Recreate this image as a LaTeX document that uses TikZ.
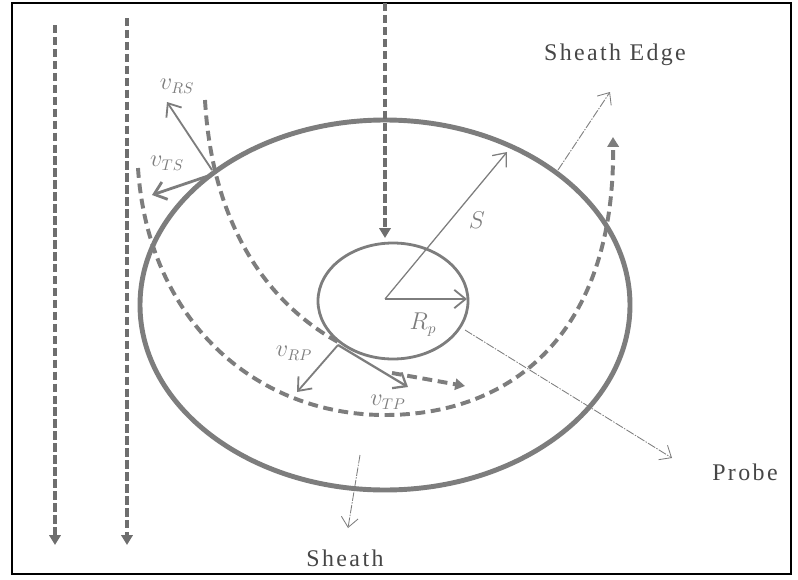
\documentclass[tikz,border=0pt]{standalone}
\usepackage{fontspec}
\newfontfamily\lblfont[LetterSpace=10]{Liberation Serif}
\usetikzlibrary{arrows.meta, positioning}
\definecolor{linegray}{RGB}{125,125,125}
\definecolor{streamgray}{RGB}{110,110,110}
\definecolor{textgray}{RGB}{70,70,70}
\tikzset{
  frame/.style={draw=black, line width=2pt}, % outer box
  sheathedge/.style={draw=linegray, line width=3.5pt},
  probeedge/.style={draw=linegray, line width=2pt},
  stream/.style={draw=streamgray, line width=2.6pt, dash pattern=on 6pt off 2.5pt,
    -{Triangle[length=7pt, width=8pt]}},
  orbit/.style={draw=linegray, line width=2.8pt, dash pattern=on 7pt off 4pt},
  vec/.style={draw=linegray, line width=1.3pt, -{Straight Barb[length=8pt, width=13pt]}},
  pointer/.style={draw=linegray, line width=0.6pt,
    dash pattern=on 6pt off 1pt on 1pt off 1pt,
    -{Straight Barb[length=7pt, width=12pt]}},
  word/.style={text=textgray, font=\fontsize{17}{20}\selectfont\lblfont},
  sym/.style={text=linegray, font=\fontsize{16}{19}\selectfont},
}

\begin{document}
\begin{tikzpicture}[x=0.025cm, y=-0.025cm]
  \useasboundingbox (0,0) rectangle (798,580);
  \draw[frame] (12,3) rectangle (791,574);

  % sheath and probe
  \coordinate (sc) at (385,305);
  \coordinate (pc) at (393,301);
  \coordinate (o) at (385,299);
  \draw[sheathedge] (sc) ellipse [x radius=245, y radius=185];
  \draw[probeedge] (pc) ellipse [x radius=75, y radius=58];

  % radii
  \coordinate (rp) at (467,299);
  \coordinate (rs) at (507,152);
  \draw[vec] (o) -- (rp);
  \draw[vec, line width=0.9pt] (o) -- (rs);
  \node[sym] (slbl) at (477,220) {$S$};
  \node[sym] (rplbl) at (423,325) {$R_p$};

  % incoming ions
  \coordinate (s1a) at (55,25);   \coordinate (s1b) at (55,545);
  \coordinate (s2a) at (127,18);  \coordinate (s2b) at (127,545);
  \coordinate (s3a) at (385,3);   \coordinate (s3b) at (385,238);
  \draw[stream] (s1a) -- (s1b);
  \draw[stream] (s2a) -- (s2b);
  \draw[stream] (s3a) -- (s3b);

  % orbits
  \coordinate (oa) at (138,168);
  \coordinate (ob) at (385,415);
  \coordinate (oc) at (613,137);
  \draw[orbit, -{Triangle[length=7pt, width=8pt]}]
    (oa) .. controls (148,320) and (255,415) .. (ob)
         .. controls (515,415) and (615,330) .. (oc);
  \coordinate (ia) at (205,100);
  \coordinate (ib) at (338,342);
  \draw[orbit] (ia) .. controls (213,240) and (280,310) .. (ib);
  \coordinate (ic) at (392,373);
  \coordinate (id) at (465,386);
  \draw[orbit, -{Triangle[length=7pt, width=8pt]}] (ic) -- (id);

  % velocity components at the sheath edge
  \coordinate (es) at (212,170);
  \coordinate (vrs) at (167,102);
  \coordinate (ets) at (208,176);
  \coordinate (vts) at (152,195);
  \draw[vec] (es) -- (vrs);
  \draw[vec, line width=2pt] (ets) -- (vts);
  \node[sym] (vrslbl) at (177,86) {$v_{RS}$};
  \node[sym] (vtslbl) at (167,163) {$v_{TS}$};

  % velocity components at the probe
  \coordinate (ep) at (338,345);
  \coordinate (vrp) at (297,392);
  \coordinate (vtp) at (408,387);
  \draw[vec] (ep) -- (vrp);
  \draw[vec, line width=1.6pt] (ep) -- (vtp);
  \node[sym] (vrplbl) at (294,353) {$v_{RP}$};
  \node[sym] (vtplbl) at (388,402) {$v_{TP}$};

  % labels
  \coordinate (pe1) at (558,170);  \coordinate (pe2) at (610,92);
  \coordinate (pp1) at (465,330);  \coordinate (pp2) at (672,458);
  \coordinate (ps1) at (360,455);  \coordinate (ps2) at (348,528);
  \draw[pointer] (pe1) -- (pe2);
  \draw[pointer] (pp1) -- (pp2);
  \draw[pointer] (ps1) -- (ps2);
  \node[word] (edge) at (615,55) {Sheath Edge};
  \node[word] (probe) at (745,472) {Probe};
  \node[word] (sheath) at (345,558) {Sheath};
\end{tikzpicture}
\end{document}
